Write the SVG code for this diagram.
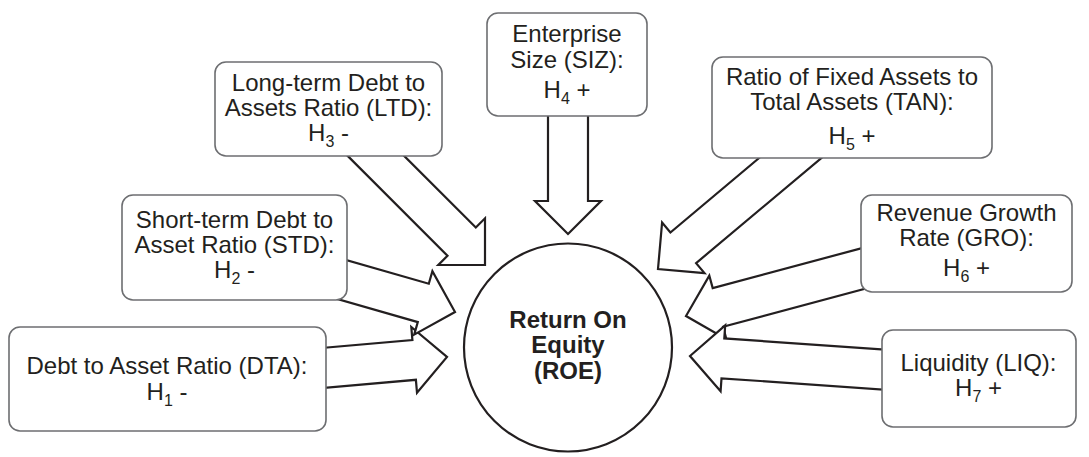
<svg xmlns="http://www.w3.org/2000/svg" width="1089" height="457" viewBox="0 0 1089 457">
<style>
.arrow{fill:#fff;stroke:#231f20;stroke-width:2.2;stroke-linejoin:miter}
.box{fill:#fff;stroke:#6d6e71;stroke-width:1.6}
.t{font-family:"Liberation Sans",Arial,sans-serif;font-size:24px;fill:#231f20;text-anchor:middle}
.sub{font-size:16px}
.b{font-weight:bold}
</style>
<rect width="1089" height="457" fill="#fff"/>
<g id="connectors">
<polygon class="arrow" points="548,110 548,201 535,201 568,234 601,201 588,201 588,110"/>
<polygon class="arrow" points="335.9,144.1 447.5,255.8 438.3,265 485,265 485,218.3 475.8,227.5 364.1,115.9"/>
<polygon class="arrow" points="292.9,350.5 412.4,340.0 411.3,327.0 447,357 417.0,392.8 415.9,379.8 296.4,390.3"/>
<polygon class="arrow" points="323.1,253.4 428.8,283.7 432.4,271.2 455,312 414.2,334.6 417.8,322.1 312.1,291.8"/>
<polygon class="arrow" points="800.6,123.2 670.4,232.5 662.1,222.5 658,269 704.5,273.1 696.1,263.1 826.4,153.8"/>
<polygon class="arrow" points="876.9,244.1 712.7,288.1 709.3,275.6 686,316 726.4,339.3 723.1,326.8 887.3,282.8"/>
<polygon class="arrow" points="913.9,351.6 724.3,338.4 725.2,325.4 690,356 720.6,391.2 721.5,378.3 911.1,391.5"/>
</g>
<g id="dta">
<rect class="box" x="9" y="327" width="317" height="104" rx="11"/>
<text class="t" x="167" y="374">Debt to Asset Ratio (DTA):</text>
<text class="t" x="167" y="400">H<tspan class="sub" dy="6">1</tspan><tspan dy="-6"> -</tspan></text>
</g>
<g id="std">
<rect class="box" x="122" y="195" width="225" height="105" rx="11"/>
<text class="t" x="234.5" y="228">Short-term Debt to</text>
<text class="t" x="234.5" y="253">Asset Ratio (STD):</text>
<text class="t" x="234.5" y="278">H<tspan class="sub" dy="6">2</tspan><tspan dy="-6"> -</tspan></text>
</g>
<g id="ltd">
<rect class="box" x="215" y="62" width="227" height="94" rx="11"/>
<text class="t" x="328.5" y="91">Long-term Debt to</text>
<text class="t" x="328.5" y="116">Assets Ratio (LTD):</text>
<text class="t" x="328.5" y="141">H<tspan class="sub" dy="6">3</tspan><tspan dy="-6"> -</tspan></text>
</g>
<g id="siz">
<rect class="box" x="487" y="13" width="160" height="103" rx="11"/>
<text class="t" x="567" y="42">Enterprise</text>
<text class="t" x="567" y="68">Size (SIZ):</text>
<text class="t" x="567" y="98">H<tspan class="sub" dy="6">4</tspan><tspan dy="-6"> +</tspan></text>
</g>
<g id="tan">
<rect class="box" x="712" y="57" width="280" height="101" rx="11"/>
<text class="t" x="852" y="85">Ratio of Fixed Assets to</text>
<text class="t" x="852" y="110">Total Assets (TAN):</text>
<text class="t" x="852" y="144">H<tspan class="sub" dy="6">5</tspan><tspan dy="-6"> +</tspan></text>
</g>
<g id="gro">
<rect class="box" x="861" y="195" width="211" height="97" rx="11"/>
<text class="t" x="966.5" y="221">Revenue Growth</text>
<text class="t" x="966.5" y="246">Rate (GRO):</text>
<text class="t" x="966.5" y="276">H<tspan class="sub" dy="6">6</tspan><tspan dy="-6"> +</tspan></text>
</g>
<g id="liq">
<rect class="box" x="882" y="330" width="194" height="97" rx="11"/>
<text class="t" x="978.5" y="371">Liquidity (LIQ):</text>
<text class="t" x="978.5" y="396">H<tspan class="sub" dy="6">7</tspan><tspan dy="-6"> +</tspan></text>
</g>
<g id="roe">
<circle cx="568" cy="347.5" r="104" fill="#fff" stroke="#231f20" stroke-width="2.2"/>
<text class="t b" x="568" y="328">Return On</text>
<text class="t b" x="568" y="353">Equity</text>
<text class="t b" x="568" y="379">(ROE)</text>
</g>
</svg>
